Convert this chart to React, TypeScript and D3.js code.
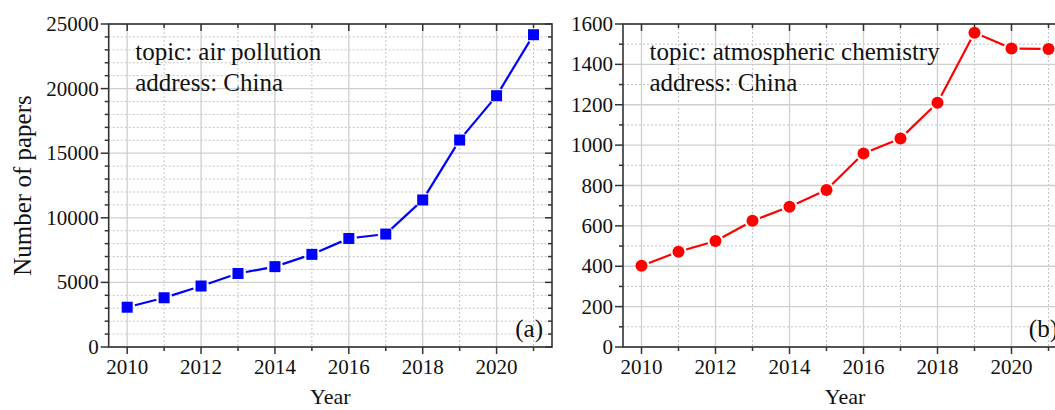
import React from "react";
import * as d3 from "d3";

const years = [2010, 2011, 2012, 2013, 2014, 2015, 2016, 2017, 2018, 2019, 2020, 2021];
const airPollution = [3080, 3810, 4720, 5690, 6220, 7170, 8400, 8740, 11380, 16020, 19450, 24170];
const atmChem = [402, 472, 525, 625, 695, 778, 959, 1033, 1210, 1557, 1479, 1476];
const xTicks = [2010, 2012, 2014, 2016, 2018, 2020];
const xMinor = [2011, 2013, 2015, 2017, 2019, 2021];
const yTicksA = [0, 5000, 10000, 15000, 20000, 25000];
const yTicksB = [0, 200, 400, 600, 800, 1000, 1200, 1400, 1600];
const labelsA = ["topic: air pollution", "address: China"];
const labelsB = ["topic: atmospheric chemistry", "address: China"];

const FONT = "'Liberation Serif', 'Times New Roman', serif";

type PanelProps = {
  x0: number; x1: number; y0: number; y1: number;
  values: number[]; yMax: number; yTicks: number[]; yMinorStep: number;
  color: string; shape: "square" | "circle"; labels: string[]; tag: string;
  yTitle?: string;
};

function Panel(p: PanelProps) {
  const x = d3.scaleLinear().domain([2009.5, 2021.5]).range([p.x0, p.x1]);
  const y = d3.scaleLinear().domain([0, p.yMax]).range([p.y1, p.y0]);
  const yMinor = d3.range(0, p.yMax + 1e-9, p.yMinorStep).filter((v) => !p.yTicks.includes(v));
  const pts = years.map((yr, i) => [x(yr), y(p.values[i])] as [number, number]);
  const r = 6;
  const gap = r + 2;
  const segs = pts.slice(1).map((b, i) => {
    const a = pts[i];
    const dx = b[0] - a[0], dy = b[1] - a[1];
    const L = Math.hypot(dx, dy);
    const ux = dx / L, uy = dy / L;
    return [a[0] + ux * gap, a[1] + uy * gap, b[0] - ux * gap, b[1] - uy * gap];
  });
  const axisColor = "#333";
  return (
    <g>
      {xMinor.map((v) => (
        <line key={"xm" + v} x1={x(v)} x2={x(v)} y1={p.y0} y2={p.y1} stroke="#c4c4c4" strokeWidth={1} strokeDasharray="2,2" />
      ))}
      {yMinor.map((v) => (
        <line key={"ym" + v} x1={p.x0} x2={p.x1} y1={y(v)} y2={y(v)} stroke="#c4c4c4" strokeWidth={1} strokeDasharray="2,2" />
      ))}
      {xTicks.map((v) => (
        <line key={"xg" + v} x1={x(v)} x2={x(v)} y1={p.y0} y2={p.y1} stroke="#cfcfcf" strokeWidth={1.3} />
      ))}
      {p.yTicks.map((v) => (
        <line key={"yg" + v} x1={p.x0} x2={p.x1} y1={y(v)} y2={y(v)} stroke="#cfcfcf" strokeWidth={1.3} />
      ))}
      {xTicks.map((v) => (
        <g key={"xt" + v}>
          <line x1={x(v)} x2={x(v)} y1={p.y1} y2={p.y1 + 7} stroke={axisColor} strokeWidth={1.5} />
          <line x1={x(v)} x2={x(v)} y1={p.y0} y2={p.y0 + 7} stroke={axisColor} strokeWidth={1.5} />
          <text x={x(v)} y={p.y1 + 26.5} textAnchor="middle" fontSize={21} fontFamily={FONT} fill="#111">{v}</text>
        </g>
      ))}
      {xMinor.map((v) => (
        <g key={"xmt" + v}>
          <line x1={x(v)} x2={x(v)} y1={p.y1} y2={p.y1 + 4} stroke={axisColor} strokeWidth={1.5} />
          <line x1={x(v)} x2={x(v)} y1={p.y0} y2={p.y0 + 4} stroke={axisColor} strokeWidth={1.5} />
        </g>
      ))}
      {p.yTicks.map((v) => (
        <g key={"yt" + v}>
          <line x1={p.x0 - 8} x2={p.x0} y1={y(v)} y2={y(v)} stroke={axisColor} strokeWidth={1.5} />
          <line x1={p.x1 - 7} x2={p.x1} y1={y(v)} y2={y(v)} stroke={axisColor} strokeWidth={1.5} />
          <text x={p.x0 - 10} y={y(v) + 7} textAnchor="end" fontSize={21} fontFamily={FONT} fill="#111">{v}</text>
        </g>
      ))}
      {yMinor.map((v) => (
        <g key={"ymt" + v}>
          <line x1={p.x0 - 4} x2={p.x0} y1={y(v)} y2={y(v)} stroke={axisColor} strokeWidth={1.5} />
          <line x1={p.x1 - 4} x2={p.x1} y1={y(v)} y2={y(v)} stroke={axisColor} strokeWidth={1.5} />
        </g>
      ))}
      <rect x={p.x0} y={p.y0} width={p.x1 - p.x0} height={p.y1 - p.y0} fill="none" stroke={axisColor} strokeWidth={1.6} />
      {segs.map((s, i) => (
        <line key={"s" + i} x1={s[0]} y1={s[1]} x2={s[2]} y2={s[3]} stroke={p.color} strokeWidth={2.2} />
      ))}
      {pts.map((pt, i) =>
        p.shape === "square" ? (
          <rect key={"m" + i} x={pt[0] - 5.5} y={pt[1] - 5.5} width={11} height={11} fill={p.color} />
        ) : (
          <circle key={"m" + i} cx={pt[0]} cy={pt[1]} r={r} fill={p.color} />
        )
      )}
      {p.labels.map((t, i) => (
        <text key={"l" + i} x={p.x0 + 26.5} y={p.y0 + 36 + i * 30.5} fontSize={25} fontFamily={FONT} fill="#111">{t}</text>
      ))}
      <text x={p.x1 - 9} y={p.y1 - 10} textAnchor="end" fontSize={25} fontFamily={FONT} fill="#111">{p.tag}</text>
      <text x={(p.x0 + p.x1) / 2} y={404} textAnchor="middle" fontSize={22} fontFamily={FONT} fill="#111">Year</text>
      {p.yTitle && (
        <text transform={`translate(31, ${(p.y0 + p.y1) / 2}) rotate(-90)`} textAnchor="middle" fontSize={25} fontFamily={FONT} fill="#111">{p.yTitle}</text>
      )}
    </g>
  );
}

export default function App() {
  return (
    <svg width={1055} height={410} style={{ position: "absolute", left: 0, top: 0, background: "#fff" }}>
      <rect x={0} y={0} width={1055} height={410} fill="#fff" />
      <Panel x0={108.7} x1={552} y0={24} y1={347} values={airPollution} yMax={25000} yTicks={yTicksA} yMinorStep={1000}
        color="#0000ff" shape="square" labels={labelsA} tag="(a)" yTitle="Number of papers" />
      <Panel x0={623} x1={1067} y0={24} y1={347} values={atmChem} yMax={1600} yTicks={yTicksB} yMinorStep={100}
        color="#ff0000" shape="circle" labels={labelsB} tag="(b)" />
    </svg>
  );
}
